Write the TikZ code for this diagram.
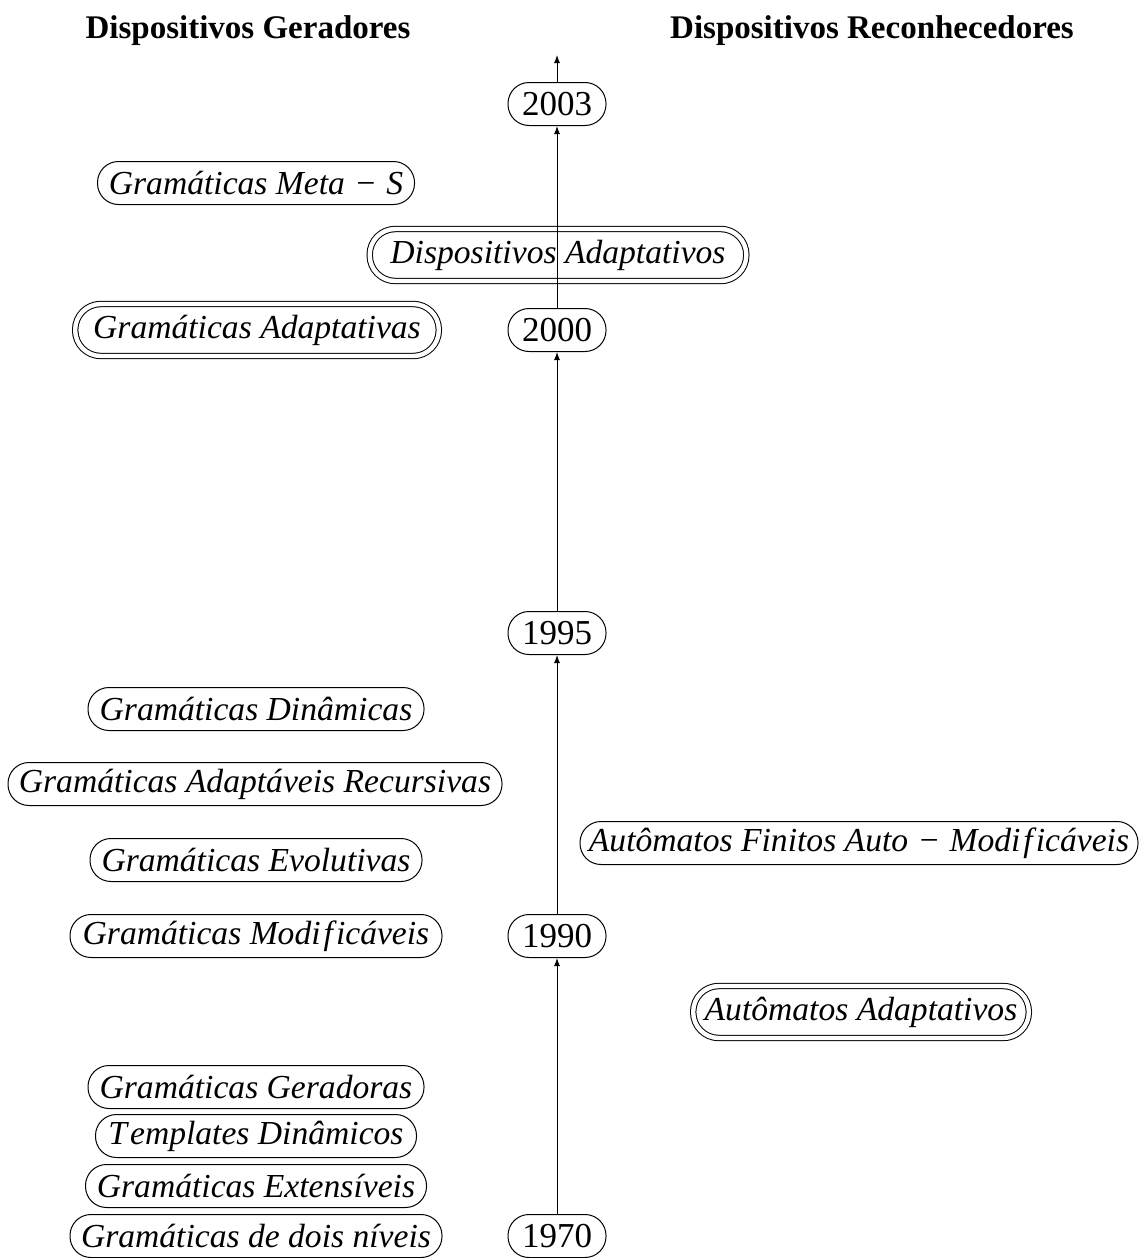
\documentclass[tikz,border=0pt]{standalone}
\usepackage{fontspec}
\setmainfont{Liberation Serif}
\usetikzlibrary{arrows.meta}
\tikzset{
  pill/.style={rectangle, draw, line width=0.5pt, minimum height=21.5pt,
    rounded corners=10.5pt, inner xsep=2pt, inner ysep=0pt,
    font=\fontsize{16.8}{20}\selectfont\itshape},
  year/.style={pill, minimum width=49pt, font=\fontsize{17.5}{20}\selectfont},
  dpill/.style={pill, double, double distance=2.2pt, minimum height=26pt,
    rounded corners=12.8pt},
  hdr/.style={font=\fontsize{16.5}{18}\selectfont\bfseries},
  flow/.style={-{Latex[length=4pt,width=3pt]}, line width=0.5pt},
}
\begin{document}
\begin{tikzpicture}[x=0.5pt,y=-0.5pt]
  \useasboundingbox (0,0) rectangle (1141,1258);

  % column headings
  \node[hdr] (hgen) at (248,31) {Dispositivos Geradores};
  \node[hdr] (hrec) at (872,31) {Dispositivos Reconhecedores};

  % time line
  \node[year] (y2003) at (557,104) {2003};
  \node[year] (y2000) at (557,330) {2000};
  \node[year] (y1995) at (557,633) {1995};
  \node[year] (y1990) at (557,936) {1990};
  \node[year] (y1970) at (557,1236) {1970};
  \coordinate (top) at (557,55);

  % generating devices
  \node[pill, minimum width=158.5pt] (meta) at (256,183) {Gramáticas Meta\;−\;S};
  \node[dpill, minimum width=181.8pt] (gadapt) at (257,330) {Gramáticas Adaptativas};
  \node[pill, minimum width=168pt] (gdin) at (256,709) {Gramáticas Dinâmicas};
  \node[pill, minimum width=247pt] (grec) at (255,784) {Gramáticas Adaptáveis Recursivas};
  \node[pill, minimum width=166pt] (gevo) at (256,860) {Gramáticas Evolutivas};
  \node[pill, minimum width=186pt] (gmod) at (256,936) {Gramáticas Modi\kern1.5pt f\kern1.5pt icáveis};
  \node[pill, minimum width=168pt] (gger) at (256,1087) {Gramáticas Geradoras};
  \node[pill, minimum width=160.5pt] (tdin) at (256,1136) {T\kern1.5pt emplates Dinâmicos};
  \node[pill, minimum width=170.5pt] (gext) at (256,1186) {Gramáticas Extensíveis};
  \node[pill, minimum width=186pt] (gdois) at (256,1236) {Gramáticas de dois níveis};

  % recognizing devices
  \node[dpill, minimum width=188.3pt] (dadapt) at (558,255) {Dispositivos Adaptativos};
  \node[pill, minimum width=279pt] (afam) at (859,843) {Autômatos Finitos Auto\;−\;Modi\kern1.5pt f\kern1.5pt icáveis};
  \node[dpill, minimum width=167.8pt] (aadapt) at (861,1012) {Autômatos Adaptativos};

  % arrows between the years
  \draw[flow] (y1970) -- (y1990);
  \draw[flow] (y1990) -- (y1995);
  \draw[flow] (y1995) -- (y2000);
  \draw[flow] (y2000) -- (y2003);
  \draw[flow] (y2003) -- (top);
\end{tikzpicture}
\end{document}
